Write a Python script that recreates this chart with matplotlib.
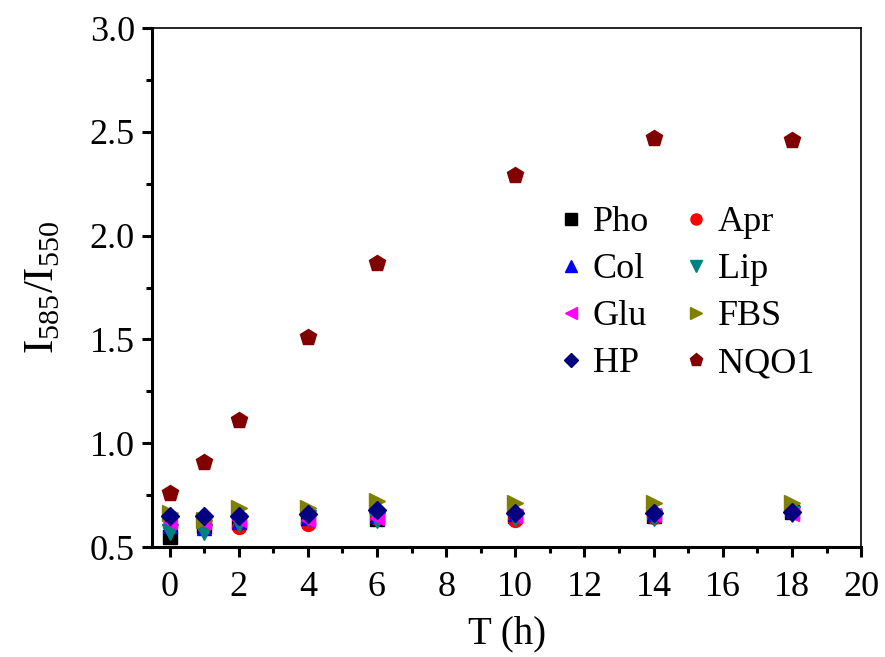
import matplotlib.pyplot as plt
from matplotlib.ticker import MultipleLocator

plt.rcParams['font.family'] = ['Liberation Serif', 'DejaVu Serif']
plt.rcParams['mathtext.fontset'] = 'custom'
plt.rcParams['mathtext.rm'] = 'Liberation Serif'

t = [0, 1, 2, 4, 6, 10, 14, 18]

pho = [0.55, 0.60, 0.62, 0.64, 0.635, 0.65, 0.65, 0.67]
apr = [0.60, 0.60, 0.595, 0.61, 0.64, 0.63, 0.645, 0.67]
col = [0.60, 0.59, 0.62, 0.64, 0.65, 0.66, 0.66, 0.68]
lip = [0.57, 0.57, 0.61, 0.64, 0.63, 0.64, 0.64, 0.66]
glu = [0.62, 0.62, 0.63, 0.63, 0.64, 0.65, 0.655, 0.66]
fbs = [0.665, 0.63, 0.69, 0.69, 0.72, 0.71, 0.71, 0.71]
hp = [0.65, 0.65, 0.65, 0.66, 0.68, 0.665, 0.665, 0.67]
nqo1 = [0.76, 0.91, 1.11, 1.51, 1.87, 2.29, 2.47, 2.46]

fig = plt.figure(figsize=(8.85, 6.57), dpi=100)
ax = fig.add_axes([0.172, 0.1674, 0.801, 0.7899])

ms = 10
ax.plot(t, pho, 's', color='black', ms=ms, label='Pho')
ax.plot(t, apr, 'o', color='red', ms=ms, label='Apr')
ax.plot(t, col, '^', color='blue', ms=ms, label='Col')
ax.plot(t, lip, 'v', color='#008080', ms=ms + 1, label='Lip')
ax.plot(t, glu, '<', color='magenta', ms=ms, label='Glu')
ax.plot(t, fbs, '>', color='#808000', ms=ms + 1, label='FBS')
ax.plot(t, hp, 'D', color='#000080', ms=ms - 1, label='HP')
ax.plot(t, nqo1, 'p', color='#800000', ms=ms + 2, label='NQO1')

ax.set_xlim(-0.5, 20)
ax.set_ylim(0.5, 3.0)
ax.xaxis.set_major_locator(MultipleLocator(2))
ax.xaxis.set_minor_locator(MultipleLocator(1))
ax.yaxis.set_major_locator(MultipleLocator(0.5))
ax.yaxis.set_minor_locator(MultipleLocator(0.25))
ax.yaxis.set_major_formatter(plt.FormatStrFormatter('%.1f'))

for side in ['left', 'bottom']:
    ax.spines[side].set_linewidth(2.2)
for side in ['top', 'right']:
    ax.spines[side].set_linewidth(1.2)

ax.tick_params(which='major', direction='out', length=7.5, width=2.2, labelsize=26)
ax.tick_params(axis='x', which='major', pad=10)
ax.tick_params(axis='y', which='major', pad=5)
ax.tick_params(which='minor', direction='out', length=4.5, width=2.2)

ax.set_xlabel('T (h)', fontsize=28, labelpad=8)
ax.set_ylabel(r'I$_{\mathregular{585}}$/I$_{\mathregular{550}}$', fontsize=31, labelpad=20)

# legend filled column by column: Pho/Col/Glu/HP, then Apr/Lip/FBS/NQO1
handles, labels = ax.get_legend_handles_labels()
order = [0, 2, 4, 6, 1, 3, 5, 7]
ax.legend([handles[i] for i in order], [labels[i] for i in order],
          ncol=2, frameon=False, fontsize=26, markerscale=0.8,
          loc='upper left', bbox_to_anchor=(0.53, 0.72),
          handlelength=0.6, handletextpad=0.3, columnspacing=1.0,
          labelspacing=0.38, numpoints=1)

fig.savefig('out.png', dpi=100)
